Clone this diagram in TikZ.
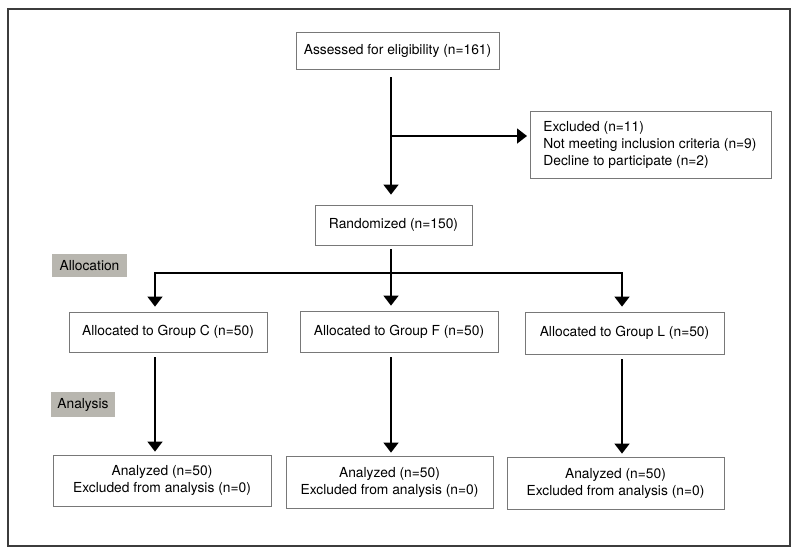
\documentclass[tikz,border=0pt]{standalone}
\usepackage{fontspec}
\setmainfont{TeX Gyre Heros}
\usetikzlibrary{arrows.meta,calc}
\definecolor{boxgray}{RGB}{120,120,120}
\definecolor{labgray}{RGB}{184,182,175}
\definecolor{framegray}{RGB}{60,60,60}
\begin{document}
\begin{tikzpicture}[x=1pt,y=-1pt,
  every node/.style={font=\fontsize{13.8}{17}\selectfont},
  box/.style={draw=boxgray,line width=0.8pt,inner sep=0pt,align=center},
  lab/.style={fill=labgray,inner sep=0pt,align=center},
  arr/.style={line width=1.5pt,-{Triangle[width=15pt,length=10pt]}},
  ln/.style={line width=1.5pt}]
\useasboundingbox (0,0) rectangle (799,555);
\draw[framegray,line width=1.5pt] (8,9) rectangle (790,546);
\node[box,minimum width=203pt,minimum height=37pt] (assess) at (397.5,50.5) {Assessed for eligibility (n=161)};
\node[box,minimum width=236pt,minimum height=67pt,anchor=west,inner xsep=13pt] (excl) at (530,144.5) {\parbox{215pt}{\raggedright Excluded (n=11)\\Not meeting inclusion criteria (n=9)\\Decline to participate (n=2)}};
\node[box,minimum width=157pt,minimum height=40pt] (rand) at (393.5,225) {Randomized (n=150)};
\node[lab,minimum width=75pt,minimum height=23pt] (alloc) at (89.5,265.5) {Allocation};
\node[box,minimum width=198pt,minimum height=40pt] (gc) at (168,332) {Allocated to Group C (n=50)};
\node[box,minimum width=198pt,minimum height=41pt] (gf) at (399,331.5) {Allocated to Group F (n=50)};
\node[box,minimum width=199pt,minimum height=42pt] (gl) at (624.5,333) {Allocated to Group L (n=50)};
\node[lab,minimum width=64pt,minimum height=25pt] (anal) at (83,404.5) {Analysis};
\node[box,minimum width=218pt,minimum height=51pt] (ac) at (162,480.5) {Analyzed (n=50)\\Excluded from analysis (n=0)};
\node[box,minimum width=207pt,minimum height=52pt] (af) at (389.5,482) {Analyzed (n=50)\\Excluded from analysis (n=0)};
\node[box,minimum width=217pt,minimum height=52pt] (al) at (615.5,483) {Analyzed (n=50)\\Excluded from analysis (n=0)};
\coordinate (cm) at (391,0);
\coordinate (cC) at (155,0);
\coordinate (cL) at (622,0);
\coordinate (br) at (391,136);
\coordinate (h) at (391,273);
\draw[arr] ([yshift=-8pt]assess.south -| cm) -- ([yshift=10pt]rand.north -| cm);
\draw[arr] (br) -- ([xshift=-3pt]excl.west |- br);
\draw[arr] ([yshift=-4pt]rand.south -| cm) -- ([yshift=5pt]gf.north -| cm);
\draw[arr] (h) -- (h -| cC) -- ([yshift=5pt]gc.north -| cC);
\draw[arr] (h) -- (h -| cL) -- ([yshift=5pt]gl.north -| cL);
\draw[arr] ([yshift=-5pt]gc.south -| cC) -- ([yshift=3pt]ac.north -| cC);
\draw[arr] ([yshift=-5pt]gf.south -| cm) -- ([yshift=3pt]af.north -| cm);
\draw[arr] ([yshift=-5pt]gl.south -| cL) -- ([yshift=3pt]al.north -| cL);
\end{tikzpicture}
\end{document}
